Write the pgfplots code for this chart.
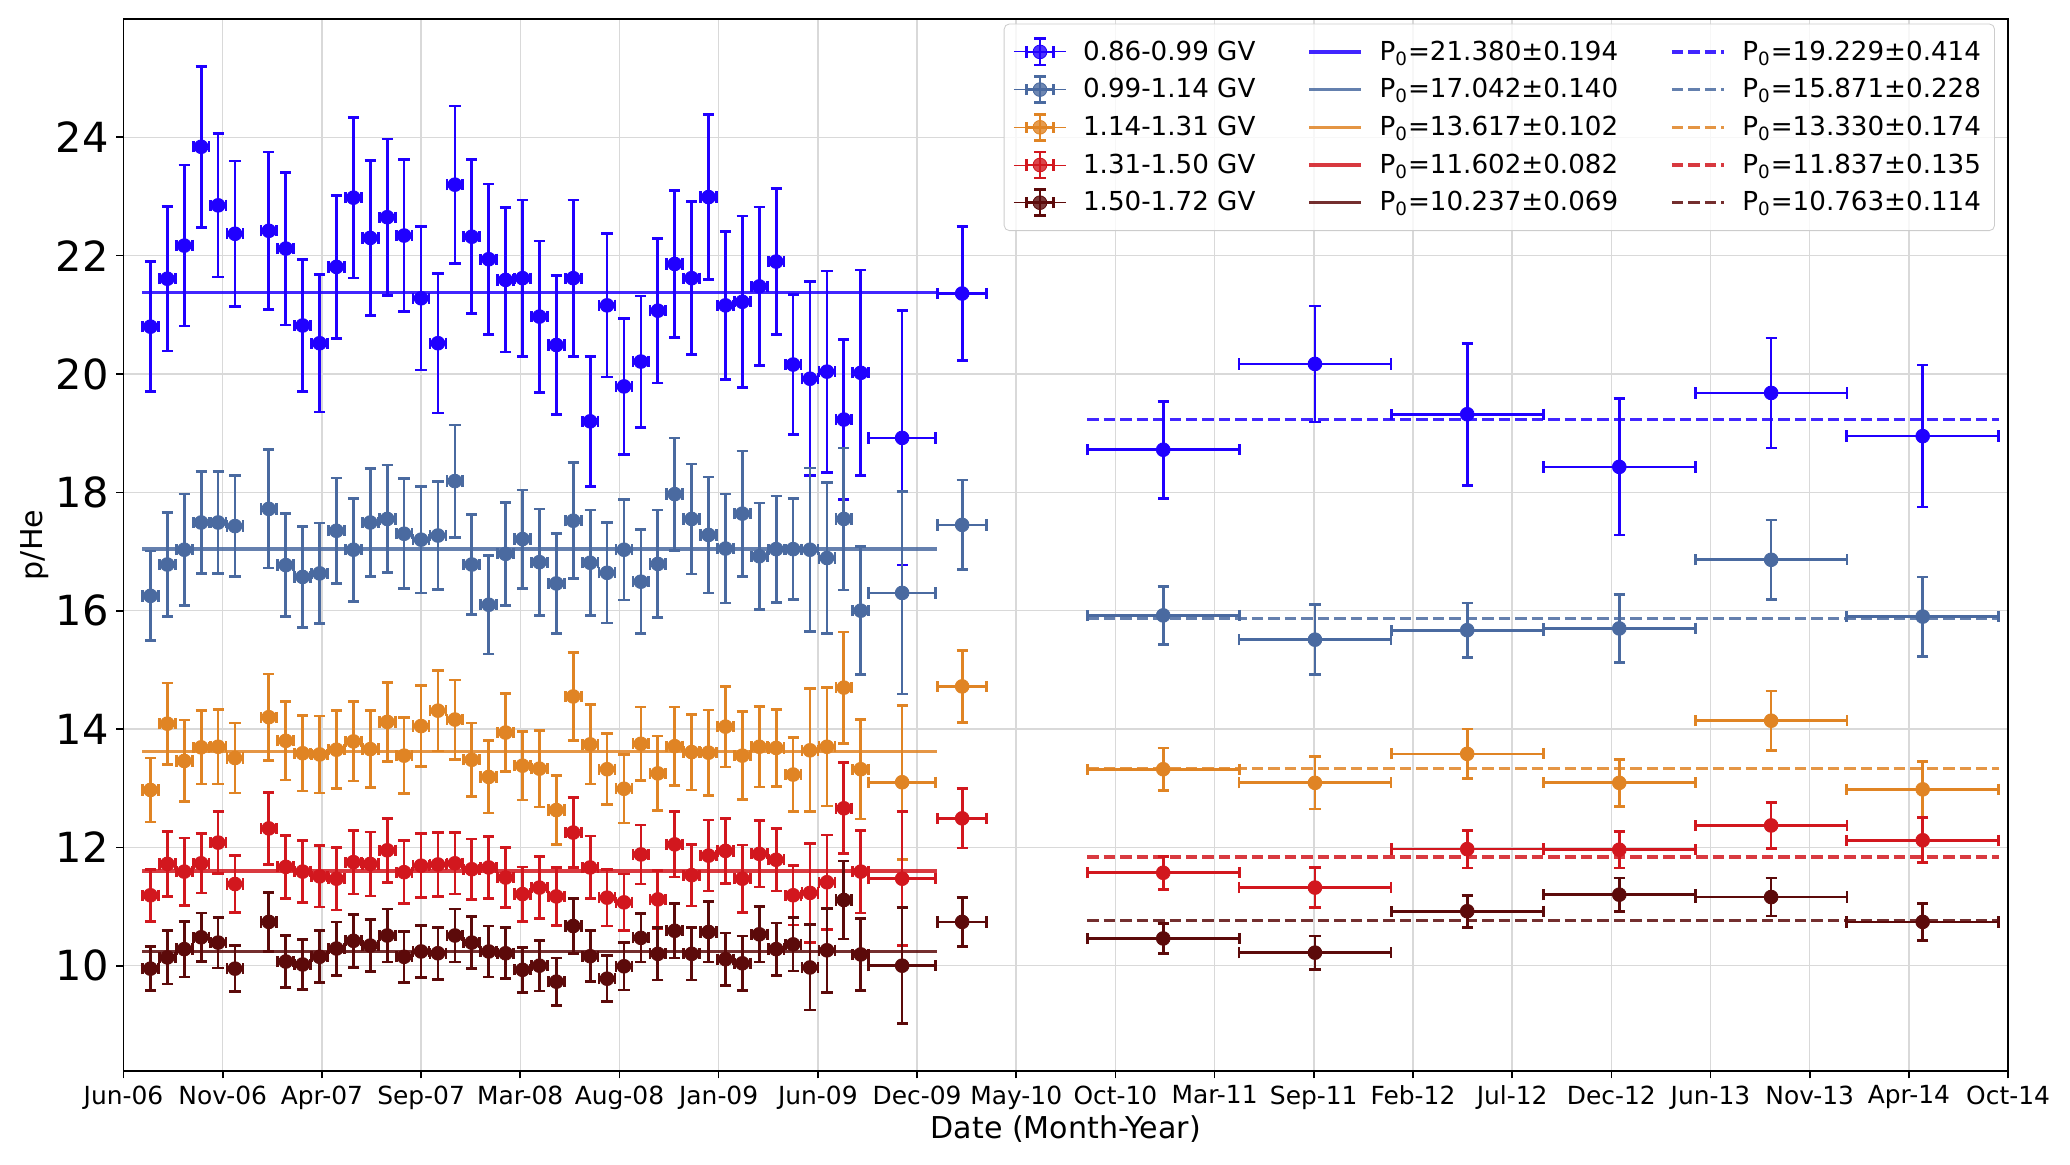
\documentclass[border=0pt]{standalone}
\usepackage{pgfplots}
\usepackage{pgfplotstable}
\pgfplotsset{compat=1.18}
\usepackage{fontspec}
\setmainfont{DejaVu Sans}
\definecolor{cA}{HTML}{2000FF}
\definecolor{cB}{HTML}{4A6AA0}
\definecolor{cC}{HTML}{E08424}
\definecolor{cD}{HTML}{D2171E}
\definecolor{cE}{HTML}{5C0A0A}
\definecolor{gridc}{HTML}{D9D9D9}

\pgfplotstableread{
x y ex ey
0.272 20.80 0.08 1.10
0.442 21.61 0.08 1.22
0.613 22.17 0.08 1.36
0.783 23.84 0.08 1.36
0.954 22.85 0.08 1.21
1.124 22.37 0.08 1.23
1.465 22.42 0.08 1.33
1.636 22.12 0.08 1.29
1.806 20.82 0.08 1.12
1.977 20.52 0.08 1.16
2.147 21.81 0.08 1.21
2.318 22.98 0.08 1.36
2.488 22.30 0.08 1.31
2.659 22.65 0.08 1.32
2.829 22.34 0.08 1.28
3.000 21.28 0.08 1.21
3.170 20.52 0.08 1.18
3.341 23.20 0.08 1.33
3.511 22.32 0.08 1.30
3.682 21.94 0.08 1.27
3.852 21.59 0.08 1.22
4.023 21.62 0.08 1.32
4.193 20.97 0.08 1.28
4.364 20.49 0.08 1.17
4.534 21.62 0.08 1.32
4.705 19.20 0.08 1.10
4.875 21.16 0.08 1.21
5.046 19.79 0.08 1.15
5.216 20.21 0.08 1.11
5.387 21.07 0.08 1.22
5.557 21.86 0.08 1.24
5.728 21.62 0.08 1.29
5.898 22.99 0.08 1.39
6.069 21.16 0.08 1.25
6.239 21.22 0.08 1.45
6.410 21.48 0.08 1.34
6.580 21.90 0.08 1.23
6.751 20.16 0.08 1.18
6.921 19.92 0.08 1.64
7.092 20.04 0.08 1.70
7.262 19.23 0.08 1.35
7.433 20.02 0.08 1.74
7.850 18.92 0.337 2.15
8.455 21.36 0.249 1.13
10.482 18.72 0.766 0.82
12.012 20.17 0.766 0.98
13.547 19.32 0.766 1.20
15.080 18.43 0.766 1.15
16.611 19.68 0.766 0.93
18.139 18.95 0.766 1.20
}\tA

\pgfplotstableread{
x y ex ey
0.272 16.25 0.08 0.76
0.442 16.78 0.08 0.88
0.613 17.03 0.08 0.94
0.783 17.49 0.08 0.86
0.954 17.49 0.08 0.86
1.124 17.43 0.08 0.85
1.465 17.72 0.08 1.00
1.636 16.77 0.08 0.87
1.806 16.57 0.08 0.85
1.977 16.63 0.08 0.85
2.147 17.35 0.08 0.89
2.318 17.03 0.08 0.87
2.488 17.49 0.08 0.91
2.659 17.55 0.08 0.91
2.829 17.30 0.08 0.93
3.000 17.20 0.08 0.90
3.170 17.27 0.08 0.91
3.341 18.19 0.08 0.95
3.511 16.78 0.08 0.84
3.682 16.10 0.08 0.83
3.852 16.96 0.08 0.87
4.023 17.21 0.08 0.83
4.193 16.82 0.08 0.90
4.364 16.46 0.08 0.84
4.534 17.52 0.08 0.98
4.705 16.81 0.08 0.89
4.875 16.64 0.08 0.85
5.046 17.03 0.08 0.85
5.216 16.49 0.08 0.88
5.387 16.79 0.08 0.91
5.557 17.97 0.08 0.95
5.728 17.55 0.08 0.93
5.898 17.28 0.08 0.98
6.069 17.05 0.08 0.92
6.239 17.64 0.08 1.06
6.410 16.92 0.08 0.90
6.580 17.04 0.08 0.90
6.751 17.04 0.08 0.85
6.921 17.03 0.08 1.38
7.092 16.89 0.08 1.28
7.262 17.55 0.08 1.20
7.433 16.00 0.08 1.08
7.850 16.30 0.337 1.71
8.455 17.45 0.249 0.76
10.482 15.92 0.766 0.49
12.012 15.51 0.766 0.59
13.547 15.67 0.766 0.46
15.080 15.70 0.766 0.57
16.611 16.86 0.766 0.67
18.139 15.90 0.766 0.67
}\tB

\pgfplotstableread{
x y ex ey
0.272 12.97 0.08 0.54
0.442 14.09 0.08 0.69
0.613 13.46 0.08 0.69
0.783 13.69 0.08 0.62
0.954 13.70 0.08 0.63
1.124 13.51 0.08 0.59
1.465 14.20 0.08 0.73
1.636 13.80 0.08 0.66
1.806 13.59 0.08 0.64
1.977 13.57 0.08 0.65
2.147 13.65 0.08 0.66
2.318 13.79 0.08 0.67
2.488 13.66 0.08 0.65
2.659 14.12 0.08 0.67
2.829 13.55 0.08 0.64
3.000 14.05 0.08 0.68
3.170 14.31 0.08 0.68
3.341 14.16 0.08 0.67
3.511 13.48 0.08 0.62
3.682 13.19 0.08 0.61
3.852 13.94 0.08 0.66
4.023 13.38 0.08 0.58
4.193 13.33 0.08 0.65
4.364 12.63 0.08 0.58
4.534 14.55 0.08 0.74
4.705 13.74 0.08 0.67
4.875 13.32 0.08 0.60
5.046 12.99 0.08 0.58
5.216 13.75 0.08 0.62
5.387 13.25 0.08 0.63
5.557 13.71 0.08 0.66
5.728 13.61 0.08 0.64
5.898 13.60 0.08 0.72
6.069 14.04 0.08 0.68
6.239 13.55 0.08 0.74
6.410 13.70 0.08 0.68
6.580 13.68 0.08 0.65
6.751 13.23 0.08 0.63
6.921 13.64 0.08 1.04
7.092 13.70 0.08 1.00
7.262 14.70 0.08 0.94
7.433 13.32 0.08 0.84
7.850 13.10 0.337 1.30
8.455 14.72 0.249 0.61
10.482 13.32 0.766 0.36
12.012 13.09 0.766 0.44
13.547 13.58 0.766 0.42
15.080 13.09 0.766 0.40
16.611 14.14 0.766 0.50
18.139 12.98 0.766 0.47
}\tC

\pgfplotstableread{
x y ex ey
0.272 11.19 0.08 0.44
0.442 11.72 0.08 0.55
0.613 11.59 0.08 0.57
0.783 11.73 0.08 0.50
0.954 12.08 0.08 0.52
1.124 11.38 0.08 0.48
1.465 12.32 0.08 0.61
1.636 11.67 0.08 0.53
1.806 11.59 0.08 0.52
1.977 11.51 0.08 0.52
2.147 11.47 0.08 0.53
2.318 11.75 0.08 0.54
2.488 11.72 0.08 0.54
2.659 11.95 0.08 0.54
2.829 11.58 0.08 0.53
3.000 11.69 0.08 0.54
3.170 11.71 0.08 0.54
3.341 11.73 0.08 0.52
3.511 11.63 0.08 0.51
3.682 11.66 0.08 0.52
3.852 11.49 0.08 0.51
4.023 11.21 0.08 0.46
4.193 11.32 0.08 0.52
4.364 11.17 0.08 0.49
4.534 12.25 0.08 0.59
4.705 11.66 0.08 0.53
4.875 11.15 0.08 0.48
5.046 11.07 0.08 0.48
5.216 11.88 0.08 0.50
5.387 11.12 0.08 0.49
5.557 12.05 0.08 0.55
5.728 11.53 0.08 0.52
5.898 11.86 0.08 0.60
6.069 11.94 0.08 0.55
6.239 11.47 0.08 0.57
6.410 11.89 0.08 0.56
6.580 11.79 0.08 0.53
6.751 11.19 0.08 0.50
6.921 11.23 0.08 0.84
7.092 11.41 0.08 0.80
7.262 12.66 0.08 0.77
7.433 11.59 0.08 0.70
7.850 11.47 0.337 1.13
8.455 12.49 0.249 0.50
10.482 11.57 0.766 0.28
12.012 11.32 0.766 0.34
13.547 11.97 0.766 0.32
15.080 11.96 0.766 0.31
16.611 12.37 0.766 0.39
18.139 12.12 0.766 0.38
}\tD

\pgfplotstableread{
x y ex ey
0.272 9.95 0.08 0.37
0.442 10.14 0.08 0.45
0.613 10.28 0.08 0.47
0.783 10.48 0.08 0.41
0.954 10.39 0.08 0.43
1.124 9.95 0.08 0.39
1.465 10.74 0.08 0.50
1.636 10.07 0.08 0.44
1.806 10.02 0.08 0.42
1.977 10.15 0.08 0.44
2.147 10.29 0.08 0.45
2.318 10.42 0.08 0.45
2.488 10.34 0.08 0.44
2.659 10.51 0.08 0.45
2.829 10.15 0.08 0.43
3.000 10.24 0.08 0.44
3.170 10.21 0.08 0.44
3.341 10.51 0.08 0.45
3.511 10.39 0.08 0.44
3.682 10.24 0.08 0.43
3.852 10.21 0.08 0.43
4.023 9.93 0.08 0.38
4.193 10.00 0.08 0.43
4.364 9.73 0.08 0.40
4.534 10.67 0.08 0.47
4.705 10.16 0.08 0.43
4.875 9.78 0.08 0.39
5.046 9.99 0.08 0.40
5.216 10.47 0.08 0.41
5.387 10.20 0.08 0.44
5.557 10.59 0.08 0.46
5.728 10.20 0.08 0.44
5.898 10.57 0.08 0.51
6.069 10.11 0.08 0.44
6.239 10.04 0.08 0.46
6.410 10.53 0.08 0.47
6.580 10.28 0.08 0.44
6.751 10.36 0.08 0.45
6.921 9.97 0.08 0.72
7.092 10.26 0.08 0.71
7.262 11.11 0.08 0.66
7.433 10.19 0.08 0.61
7.850 10.00 0.337 0.98
8.455 10.74 0.249 0.41
10.482 10.46 0.766 0.25
12.012 10.22 0.766 0.28
13.547 10.92 0.766 0.27
15.080 11.20 0.766 0.28
16.611 11.16 0.766 0.32
18.139 10.74 0.766 0.31
}\tE

\newcommand{\errimg}[1]{%
  \path (0bp,0bp) -- (25bp,0bp);
  \draw[#1,line width=1.3bp] (12.5bp,-6.3bp)--(12.5bp,6.3bp) (6bp,0bp)--(19bp,0bp)
    (9.8bp,6.3bp)--(15.2bp,6.3bp) (9.8bp,-6.3bp)--(15.2bp,-6.3bp)
    (6bp,-2.7bp)--(6bp,2.7bp) (19bp,-2.7bp)--(19bp,2.7bp);
  \fill[#1] (12.5bp,0bp) circle (3.3bp);}

\pgfplotsset{
  errstyle/.style={only marks, mark=*, mark size=3.3bp, color=#1,
    mark options={fill=#1, draw=#1, line width=0.4bp},
    legend image code/.code={\errimg{#1}},
    error bars/.cd, x dir=both, x explicit, y dir=both, y explicit,
    error bar style={line width=1.3bp, color=#1},
    error mark options={rotate=90, line width=1.3bp, mark size=2.7bp, color=#1}},
  fitstyle/.style={color=#1, line width=1.6bp, draw opacity=0.85, mark=none},
}

\begin{document}
\begin{tikzpicture}
\begin{axis}[
  scale only axis, width=904.6bp, height=504.96bp,
  xmin=0, xmax=19, ymin=8.22, ymax=26.0,
  xtick={0,1,...,19},
  xticklabels={Jun-06,Nov-06,Apr-07,Sep-07,Mar-08,Aug-08,Jan-09,Jun-09,Dec-09,May-10,Oct-10,Mar-11,Sep-11,Feb-12,Jul-12,Dec-12,Jun-13,Nov-13,Apr-14,Oct-14},
  ytick={10,12,...,24},
  grid=major, grid style={gridc, line width=0.7bp},
  axis line style={line width=0.8bp},
  tick align=outside, tick pos=left,
  major tick length=3.6bp, tick style={black, line width=0.8bp},
  /pgf/number format/assume math mode=true,
  xticklabel style={font=\fontsize{12}{14}\selectfont},
  yticklabel style={font=\fontsize{20}{24}\selectfont},
  xlabel={Date (Month-Year)}, ylabel={p/He},
  every axis x label/.style={at={(axis description cs:0.5,0)}, anchor=base, yshift=-32.2bp, font=\fontsize{14.5}{17}\selectfont},
  every axis y label/.style={at={(axis description cs:0,0.5)}, xshift=-38.9bp, anchor=base, rotate=90, font=\fontsize{14.5}{17}\selectfont},
  legend columns=3,
  legend style={at={(1,1)}, anchor=north east, xshift=-6.3bp, yshift=-2.2bp,
    font=\fontsize{12.6}{15}\selectfont, draw=gray!40, rounded corners=2.5bp,
    fill=white, fill opacity=0.8, text opacity=1, row sep=3.3bp,
    inner xsep=4.5bp, inner ysep=6bp,
    /tikz/every odd column/.append style={column sep=6bp},
    /tikz/every even column/.append style={column sep=23bp}},
  legend cell align=left,
  legend image code/.code={\draw[#1] (0bp,0bp)--(25bp,0bp);},
]
\addplot[errstyle=cA] table[x=x,y=y,x error=ex,y error=ey] {\tA};
\addlegendentry{0.86-0.99 GV}
\addplot[fitstyle=cA] coordinates {(0.187,21.380) (8.206,21.380)};
\addlegendentry{P\textsubscript{0}=21.380±0.194}
\addplot[fitstyle=cA, dash pattern=on 5.5bp off 2.4bp] coordinates {(9.716,19.229) (18.905,19.229)};
\addlegendentry{P\textsubscript{0}=19.229±0.414}

\addplot[errstyle=cB] table[x=x,y=y,x error=ex,y error=ey] {\tB};
\addlegendentry{0.99-1.14 GV}
\addplot[fitstyle=cB] coordinates {(0.187,17.042) (8.206,17.042)};
\addlegendentry{P\textsubscript{0}=17.042±0.140}
\addplot[fitstyle=cB, dash pattern=on 5.5bp off 2.4bp] coordinates {(9.716,15.871) (18.905,15.871)};
\addlegendentry{P\textsubscript{0}=15.871±0.228}

\addplot[errstyle=cC] table[x=x,y=y,x error=ex,y error=ey] {\tC};
\addlegendentry{1.14-1.31 GV}
\addplot[fitstyle=cC] coordinates {(0.187,13.617) (8.206,13.617)};
\addlegendentry{P\textsubscript{0}=13.617±0.102}
\addplot[fitstyle=cC, dash pattern=on 5.5bp off 2.4bp] coordinates {(9.716,13.330) (18.905,13.330)};
\addlegendentry{P\textsubscript{0}=13.330±0.174}

\addplot[errstyle=cD] table[x=x,y=y,x error=ex,y error=ey] {\tD};
\addlegendentry{1.31-1.50 GV}
\addplot[fitstyle=cD] coordinates {(0.187,11.602) (8.206,11.602)};
\addlegendentry{P\textsubscript{0}=11.602±0.082}
\addplot[fitstyle=cD, dash pattern=on 5.5bp off 2.4bp] coordinates {(9.716,11.837) (18.905,11.837)};
\addlegendentry{P\textsubscript{0}=11.837±0.135}

\addplot[errstyle=cE] table[x=x,y=y,x error=ex,y error=ey] {\tE};
\addlegendentry{1.50-1.72 GV}
\addplot[fitstyle=cE] coordinates {(0.187,10.237) (8.206,10.237)};
\addlegendentry{P\textsubscript{0}=10.237±0.069}
\addplot[fitstyle=cE, dash pattern=on 5.5bp off 2.4bp] coordinates {(9.716,10.763) (18.905,10.763)};
\addlegendentry{P\textsubscript{0}=10.763±0.114}

\coordinate (bl) at (rel axis cs:0,0);
\coordinate (tr) at (rel axis cs:1,1);
\end{axis}
\pgfresetboundingbox
\path ([shift={(-59.28bp,-44.64bp)}]bl) rectangle ([shift={(29.72bp,9.12bp)}]tr);
\end{tikzpicture}
\end{document}
